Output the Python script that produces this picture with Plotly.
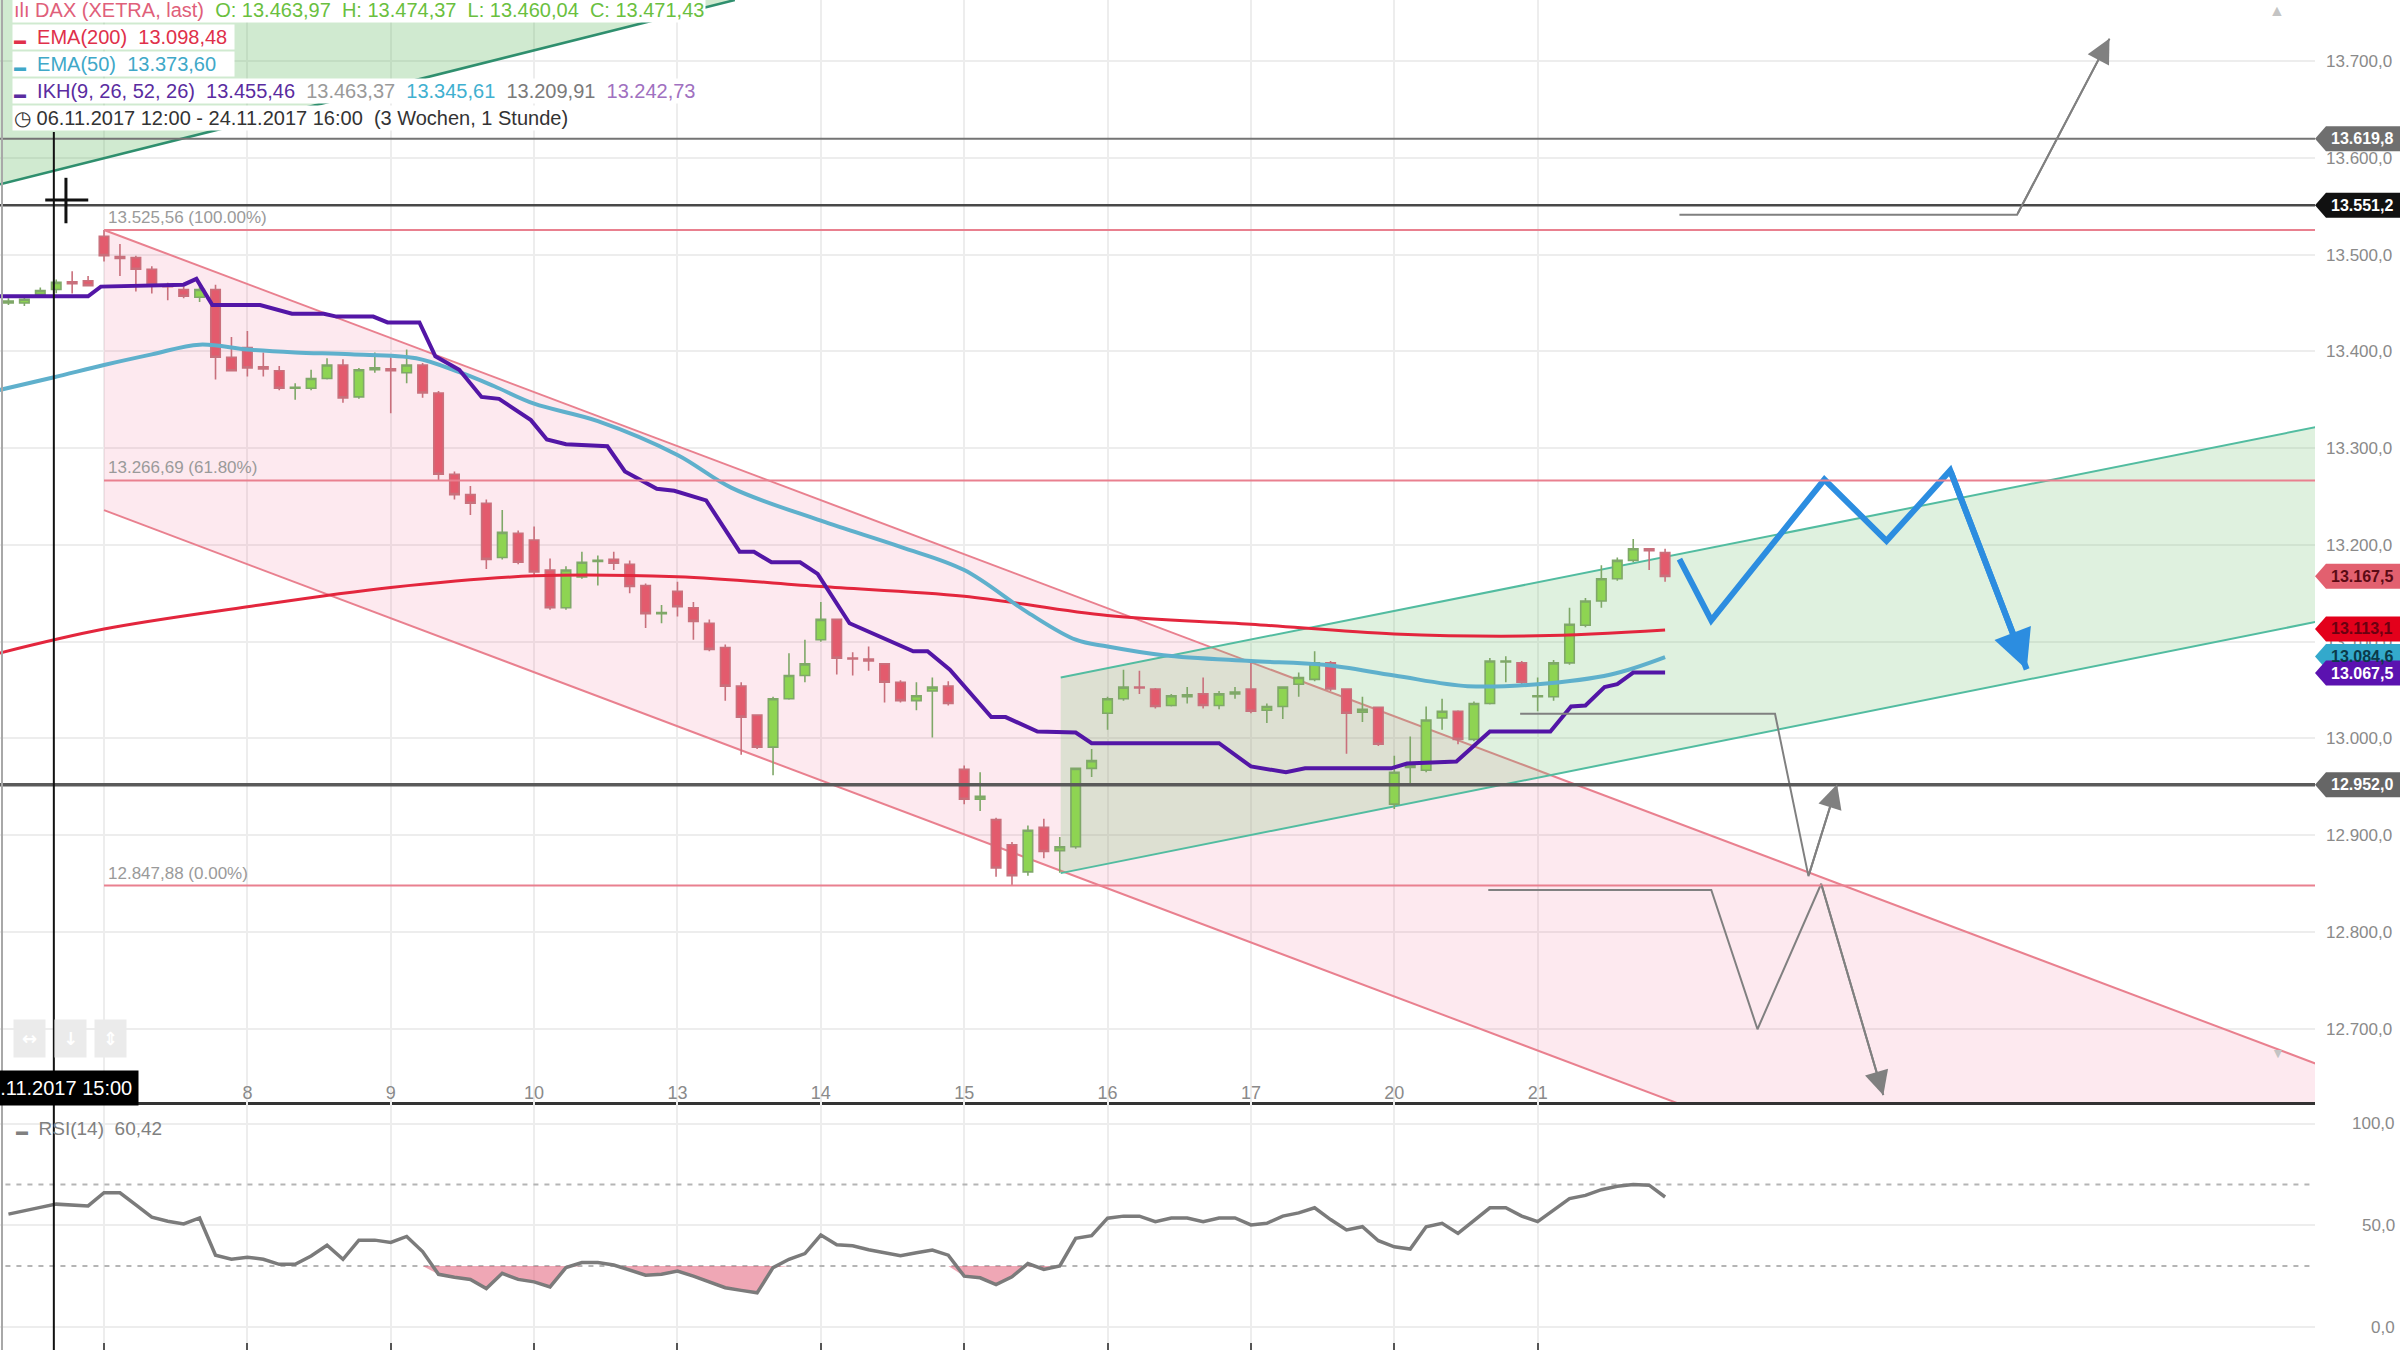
import plotly.graph_objects as go
from plotly.subplots import make_subplots

# Kanvas: 2400x1350, rechts 85 px fuer die Preisachse
W, H = 2400, 1350
R = 85
PW = W - R


def px_x(p):
    return p / PW


def px_y(p):
    return 1 - p / H


FONT = "Liberation Sans, Arial, sans-serif"

# Stundenkerzen DAX, Index 0 = 07.11. 09:00 (9 Kerzen pro Handelstag)
candle_idx = list(range(-6, 99))
opens = [
    13450, 13450, 13459, 13463.97, 13472, 13473,
    13519, 13498, 13497, 13485, 13468, 13464, 13456, 13464, 13394,
    13404, 13384, 13380, 13362, 13362, 13372, 13386, 13353, 13381,
    13382, 13378, 13386, 13357, 13273, 13252, 13243, 13187, 13212,
    13205, 13174, 13135, 13167, 13183, 13185, 13180, 13158, 13129,
    13152, 13135, 13119, 13094, 13054, 13024, 12991, 13041, 13065,
    13102, 13123, 13083, 13082, 13077, 13058, 13039, 13049, 13054,
    12968, 12937, 12916, 12890, 12862, 12908, 12884, 12888, 12969,
    13026, 13041, 13053, 13051, 13034, 13043, 13046, 13034, 13046,
    13051, 13029, 13033, 13056, 13061, 13078, 13051, 13027, 13032,
    12932, 12970, 12967, 13021, 13028, 12999, 13036, 13079, 13078,
    13043, 13043, 13078, 13117, 13142, 13165, 13184, 13196, 13192,
]
highs = [
    13455, 13457, 13466, 13474.37, 13483, 13478,
    13525.56, 13511, 13499, 13488, 13471, 13467, 13468, 13469, 13415,
    13421, 13399, 13385, 13367, 13381, 13393, 13392, 13383, 13399,
    13394, 13402, 13388, 13359, 13276, 13261, 13247, 13236, 13215,
    13219, 13186, 13178, 13193, 13189, 13193, 13184, 13160, 13138,
    13162, 13141, 13123, 13097, 13058, 13025, 13043, 13088, 13102,
    13141, 13124, 13089, 13095, 13078, 13060, 13058, 13063, 13059,
    12972, 12965, 12918, 12893, 12910, 12917, 12898, 12970, 12989,
    13043, 13071, 13070, 13052, 13046, 13053, 13063, 13049, 13053,
    13081, 13036, 13054, 13068, 13090, 13080, 13051, 13043, 13033,
    12982, 13002, 13033, 13041, 13029, 13038, 13083, 13085, 13080,
    13063, 13081, 13135, 13145, 13179, 13187, 13206, 13196, 13196,
]
lows = [
    13448, 13447, 13457, 13460.04, 13460, 13467,
    13493, 13478, 13462, 13460, 13453, 13455, 13451, 13371, 13380,
    13374, 13374, 13360, 13350, 13360, 13371, 13347, 13351, 13378,
    13336, 13367, 13352, 13266, 13247, 13231, 13175, 13185, 13180,
    13168, 13133, 13133, 13165, 13158, 13174, 13150, 13114, 13119,
    13126, 13102, 13090, 13039, 12983, 12989, 12962, 13040, 13058,
    13100, 13066, 13065, 13070, 13037, 13037, 13029, 13001, 13034,
    12932, 12925, 12857, 12848, 12858, 12876, 12861, 12886, 12960,
    13009, 13039, 13046, 13031, 13033, 13036, 13031, 13030, 13041,
    13026, 13016, 13020, 13043, 13059, 13049, 12984, 13017, 12992,
    12927, 12952, 12965, 13009, 12994, 12997, 13035, 13058, 13056,
    13028, 13039, 13076, 13115, 13135, 13163, 13182, 13174, 13162,
]
closes = [
    13452, 13454, 13463, 13471.43, 13470, 13468,
    13499, 13496, 13485, 13469, 13467, 13457, 13464, 13394, 13380,
    13383, 13382, 13362, 13363, 13372, 13386, 13352, 13381, 13383,
    13380, 13386, 13357, 13273, 13252, 13243, 13185, 13213, 13182,
    13172, 13135, 13174, 13182, 13184, 13181, 13157, 13129, 13130,
    13136, 13121, 13092, 13054, 13022, 12991, 13041, 13065, 13077,
    13123, 13083, 13082, 13080, 13058, 13039, 13044, 13053, 13036,
    12937, 12940, 12866, 12858, 12905, 12883, 12888, 12969, 12977,
    13041, 13053, 13052, 13033, 13044, 13045, 13034, 13046, 13048,
    13028, 13033, 13053, 13063, 13078, 13051, 13026, 13030, 12994,
    12965, 12972, 13019, 13028, 12999, 13036, 13080, 13080, 13058,
    13044, 13078, 13118, 13142, 13165, 13184, 13196, 13194, 13167.5,
]

ema200_x = [-6.6, 0, 9, 18, 27, 36, 45, 54, 63, 72, 81, 90, 98]
ema200_y = [13088, 13113, 13136, 13156, 13168, 13167, 13157, 13147, 13127,
            13118, 13108, 13106, 13112]

ema50_x = [-6.6, -3.2, 0, 3, 6, 9, 12, 15.5, 19.6, 22.4, 24.5, 27, 31, 36,
           39.4, 45, 50, 54, 58, 61, 63, 66.5, 72, 76.6, 81, 85.6, 90, 94.6, 98]
ema50_y = [13360, 13373, 13386, 13397, 13407, 13402, 13399, 13397, 13393,
           13378, 13364, 13346, 13328, 13293, 13259, 13225, 13198, 13174,
           13130, 13102, 13095, 13086, 13080, 13076, 13065, 13054, 13056,
           13066, 13084]

ikh_x = [-6.6, -1.0, -0.2, 5.0, 5.8, 6.8, 9.8, 11.8, 13.8, 14.6, 16.9, 17.8,
         19.8, 20.8, 22.3, 23.7, 24.8, 26.8, 27.8, 29.0, 31.6, 32.7, 34.7,
         35.8, 37.8, 39.9, 40.8, 41.9, 43.7, 44.8, 46.8, 48.8, 50.8, 51.7,
         53.1, 55.7, 56.6, 58.6, 61.0, 62.0, 70.0, 72.0, 74.2, 75.4, 80.8,
         81.8, 84.9, 87.0, 90.8, 92.1, 93.0, 94.2, 95.0, 96.0, 98.0]
ikh_y = [13457, 13457, 13467, 13469, 13475, 13448, 13448, 13439, 13439, 13436,
         13436, 13430, 13430, 13395, 13381, 13353, 13351, 13329, 13309, 13304,
         13302, 13276, 13258, 13256, 13246, 13193, 13193, 13182, 13182, 13170,
         13119, 13104, 13090, 13090, 13071, 13022, 13022, 13007, 13006, 12995,
         12995, 12971, 12965, 12969, 12969, 12974, 12976, 13007, 13007, 13033,
         13034, 13053, 13056, 13068, 13068]

rsi_vals = [
    55.5, 57.3, 58.8, 60.4, 60.1, 59.5,
    66.0, 66.0, 60.0, 54.0, 52.0, 50.7, 53.6, 35.3, 33.3,
    34.3, 33.3, 30.8, 30.8, 34.9, 40.2, 33.3, 42.7, 42.7,
    41.6, 44.5, 37.1, 25.9, 24.5, 23.4, 18.9, 26.4, 23.4,
    22.2, 19.7, 29.2, 31.7, 31.7, 30.5, 27.8, 25.5, 25.9,
    27.5, 25.0, 22.1, 19.3, 18.0, 16.8, 29.2, 33.3, 36.1,
    45.2, 40.4, 39.9, 38.0, 36.3, 35.0, 36.5, 37.8, 35.3,
    25.0, 24.2, 20.9, 24.7, 31.2, 28.3, 30.0, 43.6, 44.9,
    53.5, 54.5, 54.5, 51.8, 53.6, 53.6, 51.8, 53.6, 53.6,
    50.2, 51.0, 54.5, 56.1, 58.6, 52.8, 47.7, 49.3, 42.4,
    39.4, 38.3, 49.3, 51.0, 46.0, 52.3, 58.6, 58.6, 54.5,
    51.8, 57.3, 63.1, 64.7, 67.5, 69.2, 70.0, 69.7, 63.9,
]

# Zeitachse
day_idx = [0, 9, 18, 27, 36, 45, 54, 63, 72, 81, 90]
day_lbl = ["7", "8", "9", "10", "13", "14", "15", "16", "17", "20", "21"]

price_ticks = [12700, 12800, 12900, 13000, 13100, 13200, 13300, 13400, 13500,
               13600, 13700]
price_lbls = ["12.700,0", "12.800,0", "12.900,0", "13.000,0", "13.100,0",
              "13.200,0", "13.300,0", "13.400,0", "13.500,0", "13.600,0",
              "13.700,0"]

# Zeichnungen
fib_vals = [13525.56, 13266.69, 12847.88]
fib_text = ["13.525,56 (100.00%)", "13.266,69 (61.80%)", "12.847,88 (0.00%)"]

level_vals = [13619.8, 13551.2, 12952.0]
level_cols = ["#747474", "#484848", "#5a5a5a"]
level_wid = [2, 2.5, 3.5]

tag_vals = [13619.8, 13551.2, 12952.0, 13167.5, 13113.1, 13084.6, 13067.5]
tag_text = ["13.619,8", "13.551,2", "12.952,0", "13.167,5", "13.113,1",
            "13.084,6", "13.067,5"]
tag_bg = ["#6f6f6f", "#111111", "#666666", "#e2606f", "#e3001b", "#33a9cc",
          "#5b12b0"]
tag_fg = ["white", "white", "white", "#5a0a14", "#6a0010", "#0b3a4a", "white"]

chan_top_x = [-6.53, 39.6]
chan_top_y = [13572.7, 13763.3]

pink_upper_x = [0, 144.1]
pink_upper_y = [13525.56, 12631.2]
pink_lower_x = [0, 144.1]
pink_lower_y = [13235.9, 12341.6]

green_upper_x = [60.06, 144.1]
green_upper_y = [13063.0, 13339.0]
green_lower_x = [60.06, 144.1]
green_lower_y = [12860.7, 13137.7]

gray_up_x = [98.9, 120.1, 125.9]
gray_up_y = [13541.4, 13541.4, 13723.4]
gray_mid_x = [88.9, 104.9, 107.0, 108.8]
gray_mid_y = [13025.4, 13025.4, 12857.6, 12952.6]
gray_low_x = [86.9, 100.9, 103.8, 107.8, 111.7]
gray_low_y = [12843.3, 12843.3, 12699.3, 12849.7, 12631.2]
blue_x = [98.9, 100.9, 108.0, 111.9, 115.9, 120.7]
blue_y = [13185.2, 13122.0, 13267.6, 13204.2, 13277.0, 13071.3]

cross_idx = -3.15
cursor_x = -2.39
cursor_y = 13556.5

X_RANGE = [-6.53, 138.8]
Y_RANGE = [12624.1, 13763.3]
RSI_RANGE = [-11.3, 110.6]

fig = make_subplots(rows=2, cols=1, shared_xaxes=True, vertical_spacing=0,
                    row_heights=[1102 / H, 1 - 1102 / H])

fig.add_trace(go.Candlestick(
    x=candle_idx, open=opens, high=highs, low=lows, close=closes,
    increasing=dict(fillcolor="#8ed452", line=dict(color="#7fa868", width=1.6)),
    decreasing=dict(fillcolor="#e35b6d", line=dict(color="#c9707c", width=1.6)),
    showlegend=False, hoverinfo="skip"), row=1, col=1)

fig.add_trace(go.Scatter(x=ema200_x, y=ema200_y, mode="lines",
                         line=dict(color="#e3263d", width=3, shape="spline"),
                         showlegend=False, hoverinfo="skip"), row=1, col=1)
fig.add_trace(go.Scatter(x=ema50_x, y=ema50_y, mode="lines",
                         line=dict(color="#5fb0cc", width=4, shape="spline"),
                         showlegend=False, hoverinfo="skip"), row=1, col=1)
fig.add_trace(go.Scatter(x=ikh_x, y=ikh_y, mode="lines",
                         line=dict(color="#5316a6", width=4),
                         showlegend=False, hoverinfo="skip"), row=1, col=1)

# Prognose-Linien
for xs, ys, col, w in [(gray_up_x, gray_up_y, "#808080", 2),
                       (gray_mid_x, gray_mid_y, "#808080", 2),
                       (gray_low_x, gray_low_y, "#808080", 2),
                       (blue_x, blue_y, "#2c8de0", 6)]:
    fig.add_trace(go.Scatter(x=xs, y=ys, mode="lines",
                             line=dict(color=col, width=w),
                             showlegend=False, hoverinfo="skip"), row=1, col=1)
    fig.add_annotation(x=xs[-1], y=ys[-1], ax=xs[-2], ay=ys[-2],
                       xref="x", yref="y", axref="x", ayref="y", text="",
                       showarrow=True, arrowhead=2,
                       arrowsize=2.4 if w < 4 else 1.3, arrowwidth=w,
                       arrowcolor=col)

# RSI
rsi_base = [30] * len(rsi_vals)
rsi_low = [min(v, 30) for v in rsi_vals]
fig.add_trace(go.Scatter(x=candle_idx, y=rsi_base, mode="lines",
                         line=dict(width=0), showlegend=False,
                         hoverinfo="skip"), row=2, col=1)
fig.add_trace(go.Scatter(x=candle_idx, y=rsi_low, mode="lines",
                         line=dict(width=0), fill="tonexty",
                         fillcolor="rgba(225,95,120,0.55)", showlegend=False,
                         hoverinfo="skip"), row=2, col=1)
fig.add_trace(go.Scatter(x=candle_idx, y=rsi_vals, mode="lines",
                         line=dict(color="#7b7b7b", width=3.5),
                         showlegend=False, hoverinfo="skip"), row=2, col=1)

shapes = []


def poly(xs, ys):
    pts = " L ".join(f"{a},{b}" for a, b in zip(xs, ys))
    return "M " + pts + " Z"


# Kanaele
shapes.append(dict(type="path", xref="x", yref="y", layer="between",
                   path=poly([chan_top_x[0], chan_top_x[1], chan_top_x[1], chan_top_x[0]],
                             [chan_top_y[0], chan_top_y[1], 14000, 14000]),
                   fillcolor="rgba(100,185,100,0.30)", line=dict(width=0)))
shapes.append(dict(type="line", xref="x", yref="y", layer="between",
                   x0=chan_top_x[0], y0=chan_top_y[0], x1=chan_top_x[1], y1=chan_top_y[1],
                   line=dict(color="#2f8f6e", width=2.5)))

shapes.append(dict(type="path", xref="x", yref="y", layer="between",
                   path=poly([pink_upper_x[0], pink_upper_x[1], pink_lower_x[1], pink_lower_x[0]],
                             [pink_upper_y[0], pink_upper_y[1], pink_lower_y[1], pink_lower_y[0]]),
                   fillcolor="rgba(240,110,150,0.15)", line=dict(width=0)))
for xs, ys in [(pink_upper_x, pink_upper_y), (pink_lower_x, pink_lower_y)]:
    shapes.append(dict(type="line", xref="x", yref="y", layer="between",
                       x0=xs[0], y0=ys[0], x1=xs[1], y1=ys[1],
                       line=dict(color="#e9808f", width=2)))

shapes.append(dict(type="path", xref="x", yref="y", layer="between",
                   path=poly([green_upper_x[0], green_upper_x[1], green_lower_x[1], green_lower_x[0]],
                             [green_upper_y[0], green_upper_y[1], green_lower_y[1], green_lower_y[0]]),
                   fillcolor="rgba(110,190,110,0.22)", line=dict(width=0)))
for xs, ys in [(green_upper_x, green_upper_y), (green_lower_x, green_lower_y)]:
    shapes.append(dict(type="line", xref="x", yref="y", layer="between",
                       x0=xs[0], y0=ys[0], x1=xs[1], y1=ys[1],
                       line=dict(color="#52bca0", width=2)))

# Fibonacci-Level
for v, t in zip(fib_vals, fib_text):
    shapes.append(dict(type="line", xref="x", yref="y", layer="above",
                       x0=0, x1=200, y0=v, y1=v,
                       line=dict(color="#e9808f", width=2)))
    fig.add_annotation(x=0.1, y=v, xref="x", yref="y", text=t, showarrow=False,
                       xanchor="left", yanchor="bottom", yshift=1,
                       font=dict(family=FONT, size=17, color="#9a9a9a"))

# horizontale Linien
for v, c, w in zip(level_vals, level_cols, level_wid):
    shapes.append(dict(type="line", xref="x", yref="y", layer="above",
                       x0=-20, x1=200, y0=v, y1=v, line=dict(color=c, width=w)))

# RSI 70/30
for v in [70, 30]:
    shapes.append(dict(type="line", xref="x2", yref="y2", layer="between",
                       x0=-20, x1=200, y0=v, y1=v,
                       line=dict(color="#b5b5b5", width=2, dash="5px,6px")))

# Fadenkreuz
shapes.append(dict(type="line", xref="x", yref="paper", layer="above",
                   x0=cross_idx, x1=cross_idx, y0=0, y1=px_y(132),
                   line=dict(color="#111111", width=2)))
shapes.append(dict(type="line", xref="x", yref="y", layer="above",
                   x0=cursor_x - 1.3, x1=cursor_x + 1.4, y0=cursor_y, y1=cursor_y,
                   line=dict(color="#111111", width=3)))
shapes.append(dict(type="line", xref="x", yref="y", layer="above",
                   x0=cursor_x, x1=cursor_x, y0=cursor_y + 23, y1=cursor_y - 24,
                   line=dict(color="#111111", width=3)))

# linker Rand
shapes.append(dict(type="line", xref="paper", yref="paper", layer="above",
                   x0=px_x(2), x1=px_x(2), y0=0, y1=1,
                   line=dict(color="#a8a8a8", width=2)))

# Preis-Marken rechts
half = 12.5 / 0.9673
tip, body, end = 1.0, px_x(2326), px_x(W)
for v, t, bg, fg in zip(tag_vals, tag_text, tag_bg, tag_fg):
    shapes.append(dict(type="path", xref="paper", yref="y", layer="above",
                       path=f"M {tip},{v} L {body},{v + half} L {end},{v + half} "
                            f"L {end},{v - half} L {body},{v - half} Z",
                       fillcolor=bg, line=dict(width=0)))
    fig.add_annotation(x=px_x(2329), y=v, xref="paper", yref="y", text=f"<b>{t}</b>",
                       showarrow=False, xanchor="left", yanchor="middle",
                       font=dict(family=FONT, size=16, color=fg))

fig.update_layout(shapes=shapes)

# RSI-Achsenbeschriftung
for v, t in [(100, "100,0"), (50, "50,0"), (0, "0,0")]:
    fig.add_annotation(x=px_x(W - 3), y=v, xref="paper", yref="y2", text=t,
                       showarrow=False, xanchor="right", yanchor="middle",
                       font=dict(family=FONT, size=17, color="#8a8a8a"))

# Legende oben links
NB = "\u00a0"
DASH = "<span style='font-size:12px'>▬</span>"
rows = [
    (10, f"<span style='color:#e0607a'>ılı{NB}DAX (XETRA, last)</span>{NB}{NB}"
         f"<span style='color:#6abf40'>O: 13.463,97{NB}{NB}H: 13.474,37{NB}{NB}"
         f"L: 13.460,04{NB}{NB}C: 13.471,43</span>"),
    (37, f"<span style='color:#e0304a'>{DASH}{NB}{NB}EMA(200){NB}{NB}13.098,48{NB}</span>"),
    (64, f"<span style='color:#40a8c8'>{DASH}{NB}{NB}EMA(50){NB}{NB}13.373,60{NB}{NB}{NB}</span>"),
    (91, f"<span style='color:#5a2ca0'>{DASH}{NB}{NB}IKH(9, 26, 52, 26){NB}{NB}13.455,46</span>{NB}{NB}"
         f"<span style='color:#9a9a9a'>13.463,37</span>{NB}{NB}"
         f"<span style='color:#40b0d0'>13.345,61</span>{NB}{NB}"
         f"<span style='color:#7a7a7a'>13.209,91</span>{NB}{NB}"
         f"<span style='color:#a070c0'>13.242,73</span>"),
    (118, f"<span style='color:#333333'>◷{NB}06.11.2017 12:00 - 24.11.2017 16:00{NB}{NB}"
          f"(3 Wochen, 1 Stunde)</span>"),
]
for y, t in rows:
    fig.add_annotation(x=px_x(12), y=px_y(y), xref="paper", yref="paper", text=t,
                       showarrow=False, xanchor="left", yanchor="middle",
                       bgcolor="white", borderpad=1,
                       font=dict(family=FONT, size=20))

fig.add_annotation(x=px_x(14), y=px_y(1128), xref="paper", yref="paper",
                   text=f"{DASH}{NB}{NB}RSI(14){NB}{NB}60,42", showarrow=False,
                   xanchor="left", yanchor="middle",
                   font=dict(family=FONT, size=19, color="#808080"))

# Datum am Fadenkreuz
fig.add_annotation(x=cross_idx, y=px_y(1088), xref="x", yref="paper",
                   text="06.11.2017 15:00", showarrow=False, xanchor="center",
                   yanchor="middle", xshift=1, bgcolor="#000000", borderpad=6,
                   font=dict(family=FONT, size=20, color="white"))

# Bedienknoepfe
for xp, g in [(29, "↔"), (70, "↓"), (110, "⇕")]:
    fig.add_annotation(x=px_x(xp), y=px_y(1038), xref="paper", yref="paper",
                       text=f"<b>{g}</b>", showarrow=False, bgcolor="#ebebeb",
                       xanchor="center", yanchor="middle", borderpad=8,
                       font=dict(family="DejaVu Sans", size=18, color="white"))
fig.add_annotation(x=px_x(2287), y=px_y(10), xref="paper", yref="paper", text="▲",
                   showarrow=False, yanchor="middle",
                   font=dict(size=16, color="#c4c4c4"))
fig.add_annotation(x=px_x(2287), y=px_y(1053), xref="paper", yref="paper", text="▼",
                   showarrow=False, yanchor="middle",
                   font=dict(size=14, color="#c4c4c4"))

fig.update_layout(
    width=W, height=H, margin=dict(l=0, r=R, t=0, b=0),
    paper_bgcolor="white", plot_bgcolor="white",
    font=dict(family=FONT), showlegend=False, hovermode=False,
    boxgap=0.15,
)
fig.update_xaxes(range=X_RANGE, tickvals=day_idx, ticktext=day_lbl,
                 showgrid=True, gridcolor="#ededed", gridwidth=1.5,
                 zeroline=False, rangeslider_visible=False)
fig.update_xaxes(row=1, col=1, showticklabels=True, ticklabelposition="inside",
                 ticks="outside", ticklen=7, tickwidth=2, tickcolor="#444",
                 showline=True, linecolor="#333", linewidth=3,
                 tickfont=dict(family=FONT, size=18, color="#8a8a8a"))
fig.update_xaxes(row=2, col=1, showticklabels=False, ticks="inside", ticklen=7,
                 tickwidth=2, tickcolor="#555", showline=False)
fig.update_yaxes(row=1, col=1, side="right", range=Y_RANGE, tickvals=price_ticks,
                 ticktext=price_lbls, showgrid=True, gridcolor="#ededed",
                 gridwidth=1.5, zeroline=False, ticks="", ticklabelstandoff=10,
                 tickfont=dict(family=FONT, size=17, color="#8a8a8a"))
fig.update_yaxes(row=2, col=1, side="right", range=RSI_RANGE, tickvals=[0, 50, 100],
                 showticklabels=False, showgrid=True, gridcolor="#ededed",
                 gridwidth=1.5, zeroline=False)

fig.write_html("out.html", config={"displayModeBar": False},
               post_script="document.body.style.margin='0';"
                           "document.body.style.overflow='hidden';")
